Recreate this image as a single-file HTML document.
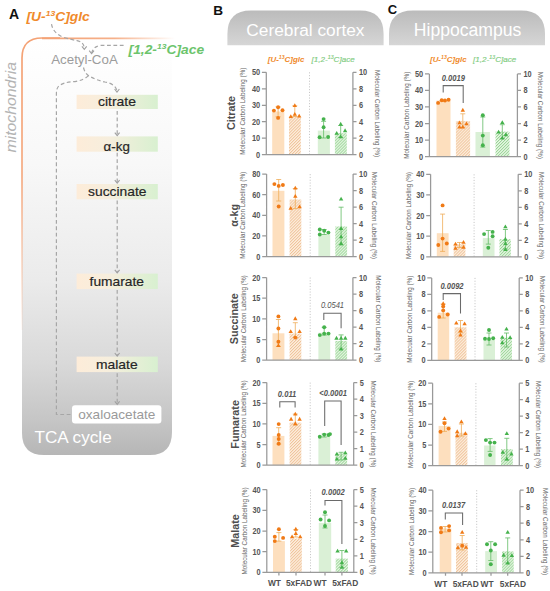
<!DOCTYPE html>
<html><head><meta charset="utf-8"><style>
html,body{margin:0;padding:0;background:#fff;}
body{width:550px;height:591px;overflow:hidden;}
svg{display:block;font-family:"Liberation Sans", sans-serif;}
</style></head><body>
<svg width="550" height="591" viewBox="0 0 550 591">
<defs>
<pattern id="hatchO" patternUnits="userSpaceOnUse" width="2.1" height="2.1" patternTransform="rotate(45)"><rect width="2.1" height="2.1" fill="#fdeedd"/><rect width="0.9" height="2.1" fill="#efc39a"/></pattern>
<pattern id="hatchG" patternUnits="userSpaceOnUse" width="2.1" height="2.1" patternTransform="rotate(45)"><rect width="2.1" height="2.1" fill="#eaf7e8"/><rect width="0.9" height="2.1" fill="#96d492"/></pattern>
<linearGradient id="tab" x1="0" y1="0" x2="0" y2="1"><stop offset="0" stop-color="#bbbbbb"/><stop offset="1" stop-color="#d6d6d6"/></linearGradient>
<linearGradient id="box" x1="0" y1="0" x2="0" y2="1"><stop offset="0" stop-color="#ffffff"/><stop offset="0.3" stop-color="#f8f8f8"/><stop offset="0.58" stop-color="#ebebeb"/><stop offset="0.78" stop-color="#d9d9d9"/><stop offset="0.92" stop-color="#c5c5c5"/><stop offset="1" stop-color="#b6b6b6"/></linearGradient>
<linearGradient id="met" x1="0" y1="0" x2="1" y2="0"><stop offset="0" stop-color="#fdecd9"/><stop offset="0.4" stop-color="#f6eedd"/><stop offset="1" stop-color="#d8f0d0"/></linearGradient>
<linearGradient id="memV" gradientUnits="userSpaceOnUse" x1="0" y1="40" x2="0" y2="340"><stop offset="0" stop-color="#f4a275"/><stop offset="0.45" stop-color="#f4a275" stop-opacity="0.9"/><stop offset="1" stop-color="#f4a275" stop-opacity="0"/></linearGradient>
<linearGradient id="memH" gradientUnits="userSpaceOnUse" x1="40" y1="0" x2="175" y2="0"><stop offset="0" stop-color="#f4a275"/><stop offset="0.55" stop-color="#f4a275" stop-opacity="0.85"/><stop offset="1" stop-color="#f4a275" stop-opacity="0"/></linearGradient>
<marker id="arr" viewBox="0 0 10 10" refX="5" refY="8" markerWidth="5" markerHeight="5" orient="auto-start-reverse" markerUnits="userSpaceOnUse"><path d="M1 3L5 8L9 3" stroke="#9a9a9a" stroke-width="1.6" fill="none"/></marker>
</defs>
<path d="M22 58Q22 38 42 38H172V432Q172 455 150 455H44Q22 455 22 433Z" fill="url(#box)"/>
<path d="M22 330V58Q22 38 42 38H60" stroke="url(#memV)" stroke-width="1.7" fill="none"/>
<path d="M42 38.3H175" stroke="url(#memH)" stroke-width="1.7" fill="none"/>
<text x="16.00" y="107.30" font-size="14.2" fill="#b4b4b4" font-weight="normal" font-style="italic" text-anchor="middle" transform="rotate(-90 16.00 107.30)" textLength="90.5" lengthAdjust="spacingAndGlyphs">mitochondria</text>
<text x="9.10" y="18.60" font-size="14" fill="#111" font-weight="bold" font-style="normal" text-anchor="start" >A</text>
<text x="26.5" y="20.7" font-size="12.6" fill="#f08a2c" font-weight="bold" font-style="italic" textLength="63.3" lengthAdjust="spacingAndGlyphs">[U-<tspan font-size="7.8" dy="-5">13</tspan><tspan dy="5">C]glc</tspan></text>
<text x="128.6" y="53.5" font-size="12.6" fill="#6cc46c" font-weight="bold" font-style="italic" textLength="75.5" lengthAdjust="spacingAndGlyphs">[1,2-<tspan font-size="7.8" dy="-5">13</tspan><tspan dy="5">C]ace</tspan></text>
<text x="51.20" y="63.90" font-size="12.2" fill="#9c9c9c" font-weight="normal" font-style="normal" text-anchor="start" textLength="66.6" lengthAdjust="spacingAndGlyphs">Acetyl-CoA</text>
<rect x="76.6" y="94.80" width="81.2" height="14.2" fill="url(#met)"/>
<text x="98.00" y="106.40" font-size="12.8" fill="#262626" font-weight="normal" font-style="normal" text-anchor="start" textLength="38.0" lengthAdjust="spacingAndGlyphs" stroke="#262626" stroke-width="0.18">citrate</text>
<rect x="76.6" y="136.40" width="81.2" height="15.3" fill="url(#met)"/>
<text x="103.60" y="150.90" font-size="12.8" fill="#262626" font-weight="normal" font-style="normal" text-anchor="start" textLength="26.3" lengthAdjust="spacingAndGlyphs" stroke="#262626" stroke-width="0.18">&#945;-kg</text>
<rect x="76.6" y="184.00" width="81.2" height="15.3" fill="url(#met)"/>
<text x="88.10" y="196.20" font-size="12.8" fill="#262626" font-weight="normal" font-style="normal" text-anchor="start" textLength="58.3" lengthAdjust="spacingAndGlyphs" stroke="#262626" stroke-width="0.18">succinate</text>
<rect x="76.6" y="273.60" width="81.2" height="15.5" fill="url(#met)"/>
<text x="89.60" y="286.00" font-size="12.8" fill="#262626" font-weight="normal" font-style="normal" text-anchor="start" textLength="54.4" lengthAdjust="spacingAndGlyphs" stroke="#262626" stroke-width="0.18">fumarate</text>
<rect x="76.6" y="356.60" width="81.2" height="15.5" fill="url(#met)"/>
<text x="96.00" y="369.10" font-size="12.8" fill="#262626" font-weight="normal" font-style="normal" text-anchor="start" textLength="41.6" lengthAdjust="spacingAndGlyphs" stroke="#262626" stroke-width="0.18">malate</text>
<rect x="72" y="405.2" width="89.4" height="18.4" rx="3" fill="#ffffff"/>
<text x="78.20" y="419.00" font-size="13.2" fill="#9a9a9a" font-weight="normal" font-style="normal" text-anchor="start" textLength="77.2" lengthAdjust="spacingAndGlyphs">oxaloacetate</text>
<text x="34.50" y="442.70" font-size="16.8" fill="#ffffff" font-weight="normal" font-style="normal" text-anchor="start" textLength="77.2" lengthAdjust="spacingAndGlyphs">TCA cycle</text>
<path d="M51.5 24.1Q53 33 63 37.2Q73 40 77 40.6Q84 42 84.3 48.6" stroke="#a6a6a6" stroke-width="1.2" fill="none" stroke-dasharray="3.8 2.6"/>
<path d="M81.90 46.30L84.30 49.30L86.70 46.30" stroke="#a0a0a0" stroke-width="1.1" fill="none"/>
<path d="M123.6 45.4H100.6Q93 46.5 91.8 53" stroke="#a6a6a6" stroke-width="1.2" fill="none" stroke-dasharray="3.8 2.6"/>
<path d="M89.20 50.60L91.60 53.60L94.00 50.60" stroke="#a0a0a0" stroke-width="1.1" fill="none"/>
<path d="M83.5 67.5Q85 74 90 76.5Q96 80 105 82Q116 84 117 91.3" stroke="#a6a6a6" stroke-width="1.2" fill="none" stroke-dasharray="3.8 2.6"/>
<path d="M114.60 89.00L117.00 92.00L119.40 89.00" stroke="#a0a0a0" stroke-width="1.1" fill="none"/>
<path d="M88.4 75.6Q84 80 75 81.6Q62 82 58 87Q56.4 89 56.4 94V414.5H71" stroke="#a6a6a6" stroke-width="1.2" fill="none" stroke-dasharray="3.8 2.6"/>
<path d="M117.2 111.00V135.40" stroke="#a6a6a6" stroke-width="1.2" fill="none" stroke-dasharray="3.8 2.6"/>
<path d="M114.80 132.60L117.20 135.60L119.60 132.60" stroke="#a0a0a0" stroke-width="1.1" fill="none"/>
<path d="M117.2 152.80V183.00" stroke="#a6a6a6" stroke-width="1.2" fill="none" stroke-dasharray="3.8 2.6"/>
<path d="M114.80 180.20L117.20 183.20L119.60 180.20" stroke="#a0a0a0" stroke-width="1.1" fill="none"/>
<path d="M117.2 200.40V272.60" stroke="#a6a6a6" stroke-width="1.2" fill="none" stroke-dasharray="3.8 2.6"/>
<path d="M114.80 269.80L117.20 272.80L119.60 269.80" stroke="#a0a0a0" stroke-width="1.1" fill="none"/>
<path d="M117.2 290.00V355.80" stroke="#a6a6a6" stroke-width="1.2" fill="none" stroke-dasharray="3.8 2.6"/>
<path d="M114.80 353.00L117.20 356.00L119.60 353.00" stroke="#a0a0a0" stroke-width="1.1" fill="none"/>
<path d="M117.2 373.20V404.20" stroke="#a6a6a6" stroke-width="1.2" fill="none" stroke-dasharray="3.8 2.6"/>
<path d="M114.80 401.40L117.20 404.40L119.60 401.40" stroke="#a0a0a0" stroke-width="1.1" fill="none"/>
<path d="M227.4 45.3V34Q227.4 10.5 251 10.5H360Q383.6 10.5 383.6 34V45.3Z" fill="url(#tab)"/>
<path d="M389 45.3V34Q389 10.4 413 10.4H521Q545 10.4 545 34V45.3Z" fill="url(#tab)"/>
<text x="305.40" y="36.30" font-size="17.3" fill="#ffffff" font-weight="normal" font-style="normal" text-anchor="middle" >Cerebral cortex</text>
<text x="467.60" y="36.20" font-size="17.6" fill="#ffffff" font-weight="normal" font-style="normal" text-anchor="middle" >Hippocampus</text>
<text x="213.30" y="15.20" font-size="13.6" fill="#111" font-weight="bold" font-style="normal" text-anchor="start" >B</text>
<text x="387.80" y="13.90" font-size="13.0" fill="#111" font-weight="bold" font-style="normal" text-anchor="start" >C</text>
<text x="267.8" y="62.3" font-size="7.6" fill="#f08a2c" font-weight="bold" font-style="italic" textLength="36.6" lengthAdjust="spacingAndGlyphs">[U-<tspan font-size="5.0" dy="-3.4">13</tspan><tspan dy="3.4">C]glc</tspan></text>
<text x="311.5" y="62.3" font-size="7.6" fill="#80cc80" font-style="italic" stroke="#80cc80" stroke-width="0.15" textLength="43.2" lengthAdjust="spacingAndGlyphs">[1,2-<tspan font-size="5.0" dy="-3.4">13</tspan><tspan dy="3.4">C]ace</tspan></text>
<text x="430.0" y="62.3" font-size="7.6" fill="#f08a2c" font-weight="bold" font-style="italic" textLength="36.6" lengthAdjust="spacingAndGlyphs">[U-<tspan font-size="5.0" dy="-3.4">13</tspan><tspan dy="3.4">C]glc</tspan></text>
<text x="473.1" y="62.3" font-size="7.6" fill="#80cc80" font-style="italic" stroke="#80cc80" stroke-width="0.15" textLength="43.2" lengthAdjust="spacingAndGlyphs">[1,2-<tspan font-size="5.0" dy="-3.4">13</tspan><tspan dy="3.4">C]ace</tspan></text>
<rect x="272.20" y="111.50" width="12.10" height="43.20" fill="#fddfbe"/>
<rect x="289.00" y="116.50" width="11.80" height="38.20" fill="url(#hatchO)"/>
<rect x="317.80" y="130.60" width="12.10" height="24.10" fill="#daf0d6"/>
<rect x="334.90" y="133.20" width="11.90" height="21.50" fill="url(#hatchG)"/>
<line x1="309.50" y1="72.30" x2="309.50" y2="154.70" stroke="#b4b4b4" stroke-width="0.75" stroke-dasharray="1.1 1.7"/>
<path d="M278.10 106.80V116.80M275.60 106.80H280.60M275.60 116.80H280.60" stroke="#efac58" stroke-width="0.8" fill="none"/>
<path d="M294.80 105.80V116.50M292.30 105.80H297.30M292.30 116.50H297.30" stroke="#efac58" stroke-width="0.8" fill="none"/>
<path d="M323.60 121.30V138.00M321.10 121.30H326.10M321.10 138.00H326.10" stroke="#62bb64" stroke-width="0.8" fill="none"/>
<path d="M340.70 125.50V137.50M338.20 125.50H343.20M338.20 137.50H343.20" stroke="#62bb64" stroke-width="0.8" fill="none"/>
<circle cx="273.90" cy="110.60" r="1.95" fill="#f07a16"/>
<circle cx="278.10" cy="107.20" r="1.95" fill="#f07a16"/>
<circle cx="282.50" cy="110.30" r="1.95" fill="#f07a16"/>
<circle cx="278.10" cy="117.90" r="1.95" fill="#f07a16"/>
<path d="M290.80 114.13L293.00 117.95L288.60 117.95Z" fill="#f07a16"/>
<path d="M294.80 111.93L297.00 115.75L292.60 115.75Z" fill="#f07a16"/>
<path d="M299.20 113.73L301.40 117.55L297.00 117.55Z" fill="#f07a16"/>
<path d="M294.80 103.13L297.00 106.95L292.60 106.95Z" fill="#f07a16"/>
<circle cx="323.60" cy="119.10" r="1.95" fill="#45b24c"/>
<circle cx="323.60" cy="127.30" r="1.95" fill="#45b24c"/>
<circle cx="319.60" cy="137.30" r="1.95" fill="#45b24c"/>
<circle cx="328.10" cy="137.00" r="1.95" fill="#45b24c"/>
<path d="M340.70 121.83L342.90 125.65L338.50 125.65Z" fill="#45b24c"/>
<path d="M336.70 130.93L338.90 134.75L334.50 134.75Z" fill="#45b24c"/>
<path d="M345.10 128.33L347.30 132.15L342.90 132.15Z" fill="#45b24c"/>
<path d="M340.70 134.53L342.90 138.35L338.50 138.35Z" fill="#45b24c"/>
<text x="260.10" y="157.70" font-size="8.5" fill="#555555" font-weight="bold" font-style="normal" text-anchor="end" textLength="4.1" lengthAdjust="spacingAndGlyphs">0</text>
<text x="260.10" y="141.22" font-size="8.5" fill="#555555" font-weight="bold" font-style="normal" text-anchor="end" textLength="8.2" lengthAdjust="spacingAndGlyphs">10</text>
<text x="260.10" y="124.74" font-size="8.5" fill="#555555" font-weight="bold" font-style="normal" text-anchor="end" textLength="8.2" lengthAdjust="spacingAndGlyphs">20</text>
<text x="260.10" y="108.26" font-size="8.5" fill="#555555" font-weight="bold" font-style="normal" text-anchor="end" textLength="8.2" lengthAdjust="spacingAndGlyphs">30</text>
<text x="260.10" y="91.78" font-size="8.5" fill="#555555" font-weight="bold" font-style="normal" text-anchor="end" textLength="8.2" lengthAdjust="spacingAndGlyphs">40</text>
<text x="260.10" y="75.30" font-size="8.5" fill="#555555" font-weight="bold" font-style="normal" text-anchor="end" textLength="8.2" lengthAdjust="spacingAndGlyphs">50</text>
<text x="358.90" y="157.70" font-size="8.5" fill="#555555" font-weight="bold" font-style="normal" text-anchor="start" textLength="4.1" lengthAdjust="spacingAndGlyphs">0</text>
<text x="358.90" y="141.22" font-size="8.5" fill="#555555" font-weight="bold" font-style="normal" text-anchor="start" textLength="4.1" lengthAdjust="spacingAndGlyphs">2</text>
<text x="358.90" y="124.74" font-size="8.5" fill="#555555" font-weight="bold" font-style="normal" text-anchor="start" textLength="4.1" lengthAdjust="spacingAndGlyphs">4</text>
<text x="358.90" y="108.26" font-size="8.5" fill="#555555" font-weight="bold" font-style="normal" text-anchor="start" textLength="4.1" lengthAdjust="spacingAndGlyphs">6</text>
<text x="358.90" y="91.78" font-size="8.5" fill="#555555" font-weight="bold" font-style="normal" text-anchor="start" textLength="4.1" lengthAdjust="spacingAndGlyphs">8</text>
<text x="358.90" y="75.30" font-size="8.5" fill="#555555" font-weight="bold" font-style="normal" text-anchor="start" textLength="8.2" lengthAdjust="spacingAndGlyphs">10</text>
<path d="M266.30 72.30V154.70H352.90V72.30M261.90 154.70H266.30M261.90 138.22H266.30M261.90 121.74H266.30M261.90 105.26H266.30M261.90 88.78H266.30M261.90 72.30H266.30M352.90 154.70H356.50M352.90 138.22H356.50M352.90 121.74H356.50M352.90 105.26H356.50M352.90 88.78H356.50M352.90 72.30H356.50" stroke="#999999" stroke-width="1.25" fill="none"/>
<text x="245.30" y="111.20" font-size="6.4" fill="#626262" font-weight="normal" font-style="normal" text-anchor="middle" transform="rotate(-90 245.30 111.20)" textLength="87" lengthAdjust="spacingAndGlyphs">Molecular Carbon Labeling (%)</text>
<text x="374.80" y="113.50" font-size="6.4" fill="#626262" font-weight="normal" font-style="normal" text-anchor="middle" transform="rotate(90 374.80 113.50)" textLength="87" lengthAdjust="spacingAndGlyphs">Molecular Carbon Labeling (%)</text>
<text x="235.00" y="113.00" font-size="10.8" fill="#4e4e4e" font-weight="bold" font-style="normal" text-anchor="middle" transform="rotate(-90 235.00 113.00)" >Citrate</text>
<rect x="272.50" y="190.80" width="11.90" height="65.70" fill="#fddfbe"/>
<rect x="289.60" y="199.50" width="11.70" height="57.00" fill="url(#hatchO)"/>
<rect x="318.40" y="234.50" width="11.80" height="22.00" fill="#daf0d6"/>
<rect x="335.30" y="226.50" width="11.80" height="30.00" fill="url(#hatchG)"/>
<line x1="310.20" y1="174.10" x2="310.20" y2="256.50" stroke="#b4b4b4" stroke-width="0.75" stroke-dasharray="1.1 1.7"/>
<path d="M278.70 179.50V201.00M276.20 179.50H281.20M276.20 201.00H281.20" stroke="#efac58" stroke-width="0.8" fill="none"/>
<path d="M295.30 188.50V208.60M292.80 188.50H297.80M292.80 208.60H297.80" stroke="#efac58" stroke-width="0.8" fill="none"/>
<path d="M324.20 229.50V234.50M321.70 229.50H326.70M321.70 234.50H326.70" stroke="#62bb64" stroke-width="0.8" fill="none"/>
<path d="M341.10 207.20V245.00M338.60 207.20H343.60M338.60 245.00H343.60" stroke="#62bb64" stroke-width="0.8" fill="none"/>
<circle cx="274.40" cy="184.10" r="1.95" fill="#f07a16"/>
<circle cx="278.70" cy="185.90" r="1.95" fill="#f07a16"/>
<circle cx="282.90" cy="185.00" r="1.95" fill="#f07a16"/>
<circle cx="278.70" cy="206.50" r="1.95" fill="#f07a16"/>
<path d="M295.30 185.73L297.50 189.55L293.10 189.55Z" fill="#f07a16"/>
<path d="M295.30 193.93L297.50 197.75L293.10 197.75Z" fill="#f07a16"/>
<path d="M290.70 205.93L292.90 209.75L288.50 209.75Z" fill="#f07a16"/>
<path d="M299.60 204.43L301.80 208.25L297.40 208.25Z" fill="#f07a16"/>
<circle cx="319.80" cy="229.50" r="1.95" fill="#45b24c"/>
<circle cx="324.20" cy="230.80" r="1.95" fill="#45b24c"/>
<circle cx="328.40" cy="232.60" r="1.95" fill="#45b24c"/>
<circle cx="319.80" cy="234.50" r="1.95" fill="#45b24c"/>
<path d="M341.10 196.63L343.30 200.45L338.90 200.45Z" fill="#45b24c"/>
<path d="M341.10 226.23L343.30 230.05L338.90 230.05Z" fill="#45b24c"/>
<path d="M341.10 234.43L343.30 238.25L338.90 238.25Z" fill="#45b24c"/>
<path d="M341.10 241.13L343.30 244.95L338.90 244.95Z" fill="#45b24c"/>
<text x="260.40" y="259.50" font-size="8.5" fill="#555555" font-weight="bold" font-style="normal" text-anchor="end" textLength="4.1" lengthAdjust="spacingAndGlyphs">0</text>
<text x="260.40" y="238.90" font-size="8.5" fill="#555555" font-weight="bold" font-style="normal" text-anchor="end" textLength="8.2" lengthAdjust="spacingAndGlyphs">20</text>
<text x="260.40" y="218.30" font-size="8.5" fill="#555555" font-weight="bold" font-style="normal" text-anchor="end" textLength="8.2" lengthAdjust="spacingAndGlyphs">40</text>
<text x="260.40" y="197.70" font-size="8.5" fill="#555555" font-weight="bold" font-style="normal" text-anchor="end" textLength="8.2" lengthAdjust="spacingAndGlyphs">60</text>
<text x="260.40" y="177.10" font-size="8.5" fill="#555555" font-weight="bold" font-style="normal" text-anchor="end" textLength="8.2" lengthAdjust="spacingAndGlyphs">80</text>
<text x="359.10" y="259.50" font-size="8.5" fill="#555555" font-weight="bold" font-style="normal" text-anchor="start" textLength="4.1" lengthAdjust="spacingAndGlyphs">0</text>
<text x="359.10" y="243.02" font-size="8.5" fill="#555555" font-weight="bold" font-style="normal" text-anchor="start" textLength="4.1" lengthAdjust="spacingAndGlyphs">2</text>
<text x="359.10" y="226.54" font-size="8.5" fill="#555555" font-weight="bold" font-style="normal" text-anchor="start" textLength="4.1" lengthAdjust="spacingAndGlyphs">4</text>
<text x="359.10" y="210.06" font-size="8.5" fill="#555555" font-weight="bold" font-style="normal" text-anchor="start" textLength="4.1" lengthAdjust="spacingAndGlyphs">6</text>
<text x="359.10" y="193.58" font-size="8.5" fill="#555555" font-weight="bold" font-style="normal" text-anchor="start" textLength="4.1" lengthAdjust="spacingAndGlyphs">8</text>
<text x="359.10" y="177.10" font-size="8.5" fill="#555555" font-weight="bold" font-style="normal" text-anchor="start" textLength="8.2" lengthAdjust="spacingAndGlyphs">10</text>
<path d="M266.60 174.10V256.50H353.10V174.10M262.20 256.50H266.60M262.20 235.90H266.60M262.20 215.30H266.60M262.20 194.70H266.60M262.20 174.10H266.60M353.10 256.50H356.70M353.10 240.02H356.70M353.10 223.54H356.70M353.10 207.06H356.70M353.10 190.58H356.70M353.10 174.10H356.70" stroke="#999999" stroke-width="1.25" fill="none"/>
<text x="245.20" y="215.30" font-size="6.4" fill="#626262" font-weight="normal" font-style="normal" text-anchor="middle" transform="rotate(-90 245.20 215.30)" textLength="87" lengthAdjust="spacingAndGlyphs">Molecular Carbon Labeling (%)</text>
<text x="372.00" y="215.30" font-size="6.4" fill="#626262" font-weight="normal" font-style="normal" text-anchor="middle" transform="rotate(90 372.00 215.30)" textLength="87" lengthAdjust="spacingAndGlyphs">Molecular Carbon Labeling (%)</text>
<text x="237.80" y="215.40" font-size="10.8" fill="#4e4e4e" font-weight="bold" font-style="normal" text-anchor="middle" transform="rotate(-90 237.80 215.40)" >&#945;-kg</text>
<rect x="272.50" y="333.30" width="11.90" height="26.90" fill="#fddfbe"/>
<rect x="289.60" y="333.60" width="11.70" height="26.60" fill="url(#hatchO)"/>
<rect x="318.40" y="332.70" width="11.80" height="27.50" fill="#daf0d6"/>
<rect x="335.30" y="340.90" width="11.80" height="19.30" fill="url(#hatchG)"/>
<line x1="310.20" y1="277.50" x2="310.20" y2="360.20" stroke="#b4b4b4" stroke-width="0.75" stroke-dasharray="1.1 1.7"/>
<path d="M278.40 319.50V346.40M275.90 319.50H280.90M275.90 346.40H280.90" stroke="#efac58" stroke-width="0.8" fill="none"/>
<path d="M295.30 322.70V337.60M292.80 322.70H297.80M292.80 337.60H297.80" stroke="#efac58" stroke-width="0.8" fill="none"/>
<path d="M324.20 327.30V335.10M321.70 327.30H326.70M321.70 335.10H326.70" stroke="#62bb64" stroke-width="0.8" fill="none"/>
<path d="M341.10 334.90V349.00M338.60 334.90H343.60M338.60 349.00H343.60" stroke="#62bb64" stroke-width="0.8" fill="none"/>
<circle cx="278.40" cy="316.40" r="1.95" fill="#f07a16"/>
<circle cx="278.40" cy="328.50" r="1.95" fill="#f07a16"/>
<circle cx="278.40" cy="341.80" r="1.95" fill="#f07a16"/>
<path d="M278.40 343.13L280.60 346.95L276.20 346.95Z" fill="#f07a16"/>
<path d="M295.30 316.33L297.50 320.15L293.10 320.15Z" fill="#f07a16"/>
<path d="M290.70 329.13L292.90 332.95L288.50 332.95Z" fill="#f07a16"/>
<path d="M299.60 329.13L301.80 332.95L297.40 332.95Z" fill="#f07a16"/>
<circle cx="295.30" cy="337.60" r="1.95" fill="#f07a16"/>
<circle cx="324.20" cy="327.30" r="1.95" fill="#45b24c"/>
<circle cx="319.80" cy="335.10" r="1.95" fill="#45b24c"/>
<circle cx="324.20" cy="333.60" r="1.95" fill="#45b24c"/>
<circle cx="328.50" cy="333.60" r="1.95" fill="#45b24c"/>
<path d="M336.50 335.83L338.70 339.65L334.30 339.65Z" fill="#45b24c"/>
<path d="M341.10 335.83L343.30 339.65L338.90 339.65Z" fill="#45b24c"/>
<path d="M345.30 335.83L347.50 339.65L343.10 339.65Z" fill="#45b24c"/>
<path d="M341.10 346.73L343.30 350.55L338.90 350.55Z" fill="#45b24c"/>
<text x="260.40" y="363.20" font-size="8.5" fill="#555555" font-weight="bold" font-style="normal" text-anchor="end" textLength="4.1" lengthAdjust="spacingAndGlyphs">0</text>
<text x="260.40" y="342.52" font-size="8.5" fill="#555555" font-weight="bold" font-style="normal" text-anchor="end" textLength="4.1" lengthAdjust="spacingAndGlyphs">5</text>
<text x="260.40" y="321.85" font-size="8.5" fill="#555555" font-weight="bold" font-style="normal" text-anchor="end" textLength="8.2" lengthAdjust="spacingAndGlyphs">10</text>
<text x="260.40" y="301.18" font-size="8.5" fill="#555555" font-weight="bold" font-style="normal" text-anchor="end" textLength="8.2" lengthAdjust="spacingAndGlyphs">15</text>
<text x="260.40" y="280.50" font-size="8.5" fill="#555555" font-weight="bold" font-style="normal" text-anchor="end" textLength="8.2" lengthAdjust="spacingAndGlyphs">20</text>
<text x="358.90" y="363.20" font-size="8.5" fill="#555555" font-weight="bold" font-style="normal" text-anchor="start" textLength="4.1" lengthAdjust="spacingAndGlyphs">0</text>
<text x="358.90" y="346.66" font-size="8.5" fill="#555555" font-weight="bold" font-style="normal" text-anchor="start" textLength="4.1" lengthAdjust="spacingAndGlyphs">2</text>
<text x="358.90" y="330.12" font-size="8.5" fill="#555555" font-weight="bold" font-style="normal" text-anchor="start" textLength="4.1" lengthAdjust="spacingAndGlyphs">4</text>
<text x="358.90" y="313.58" font-size="8.5" fill="#555555" font-weight="bold" font-style="normal" text-anchor="start" textLength="4.1" lengthAdjust="spacingAndGlyphs">6</text>
<text x="358.90" y="297.04" font-size="8.5" fill="#555555" font-weight="bold" font-style="normal" text-anchor="start" textLength="4.1" lengthAdjust="spacingAndGlyphs">8</text>
<text x="358.90" y="280.50" font-size="8.5" fill="#555555" font-weight="bold" font-style="normal" text-anchor="start" textLength="8.2" lengthAdjust="spacingAndGlyphs">10</text>
<path d="M266.60 277.50V360.20H352.90V277.50M262.20 360.20H266.60M262.20 339.52H266.60M262.20 318.85H266.60M262.20 298.18H266.60M262.20 277.50H266.60M352.90 360.20H356.50M352.90 343.66H356.50M352.90 327.12H356.50M352.90 310.58H356.50M352.90 294.04H356.50M352.90 277.50H356.50" stroke="#999999" stroke-width="1.25" fill="none"/>
<text x="245.90" y="318.85" font-size="6.4" fill="#626262" font-weight="normal" font-style="normal" text-anchor="middle" transform="rotate(-90 245.90 318.85)" textLength="87" lengthAdjust="spacingAndGlyphs">Molecular Carbon Labeling (%)</text>
<text x="375.50" y="318.85" font-size="6.4" fill="#626262" font-weight="normal" font-style="normal" text-anchor="middle" transform="rotate(90 375.50 318.85)" textLength="87" lengthAdjust="spacingAndGlyphs">Molecular Carbon Labeling (%)</text>
<text x="238.30" y="318.80" font-size="10.8" fill="#4e4e4e" font-weight="bold" font-style="normal" text-anchor="middle" transform="rotate(-90 238.30 318.80)" >Succinate</text>
<path d="M323.80 320.00V313.30H341.10V328.20" stroke="#6a6a6a" stroke-width="1.05" fill="none"/>
<text x="332.50" y="308.10" font-size="8.3" fill="#555" font-weight="normal" font-style="italic" text-anchor="middle" textLength="23.2" lengthAdjust="spacingAndGlyphs">0.0541</text>
<rect x="272.50" y="435.90" width="11.90" height="29.30" fill="#fddfbe"/>
<rect x="289.60" y="422.60" width="11.70" height="42.60" fill="url(#hatchO)"/>
<rect x="318.40" y="435.90" width="11.80" height="29.30" fill="#daf0d6"/>
<rect x="335.30" y="453.50" width="11.80" height="11.70" fill="url(#hatchG)"/>
<line x1="310.20" y1="382.60" x2="310.20" y2="465.20" stroke="#b4b4b4" stroke-width="0.75" stroke-dasharray="1.1 1.7"/>
<path d="M278.70 427.70V444.10M276.20 427.70H281.20M276.20 444.10H281.20" stroke="#efac58" stroke-width="0.8" fill="none"/>
<path d="M295.30 414.10V425.00M292.80 414.10H297.80M292.80 425.00H297.80" stroke="#efac58" stroke-width="0.8" fill="none"/>
<path d="M324.20 434.00V437.00M321.70 434.00H326.70M321.70 437.00H326.70" stroke="#62bb64" stroke-width="0.8" fill="none"/>
<path d="M341.10 452.30V460.00M338.60 452.30H343.60M338.60 460.00H343.60" stroke="#62bb64" stroke-width="0.8" fill="none"/>
<circle cx="278.70" cy="424.10" r="1.95" fill="#f07a16"/>
<circle cx="278.70" cy="435.00" r="1.95" fill="#f07a16"/>
<circle cx="278.70" cy="439.00" r="1.95" fill="#f07a16"/>
<circle cx="278.70" cy="443.70" r="1.95" fill="#f07a16"/>
<path d="M295.30 411.73L297.50 415.55L293.10 415.55Z" fill="#f07a16"/>
<path d="M291.10 416.83L293.30 420.65L288.90 420.65Z" fill="#f07a16"/>
<path d="M299.60 416.83L301.80 420.65L297.40 420.65Z" fill="#f07a16"/>
<path d="M295.30 421.33L297.50 425.15L293.10 425.15Z" fill="#f07a16"/>
<circle cx="319.80" cy="436.80" r="1.95" fill="#45b24c"/>
<circle cx="324.20" cy="434.60" r="1.95" fill="#45b24c"/>
<circle cx="328.50" cy="435.00" r="1.95" fill="#45b24c"/>
<circle cx="330.00" cy="434.10" r="1.95" fill="#45b24c"/>
<path d="M336.90 451.73L339.10 455.55L334.70 455.55Z" fill="#45b24c"/>
<path d="M345.30 450.43L347.50 454.25L343.10 454.25Z" fill="#45b24c"/>
<path d="M336.90 456.63L339.10 460.45L334.70 460.45Z" fill="#45b24c"/>
<path d="M345.30 455.93L347.50 459.75L343.10 459.75Z" fill="#45b24c"/>
<text x="260.60" y="468.20" font-size="8.5" fill="#555555" font-weight="bold" font-style="normal" text-anchor="end" textLength="4.1" lengthAdjust="spacingAndGlyphs">0</text>
<text x="260.60" y="447.55" font-size="8.5" fill="#555555" font-weight="bold" font-style="normal" text-anchor="end" textLength="4.1" lengthAdjust="spacingAndGlyphs">5</text>
<text x="260.60" y="426.90" font-size="8.5" fill="#555555" font-weight="bold" font-style="normal" text-anchor="end" textLength="8.2" lengthAdjust="spacingAndGlyphs">10</text>
<text x="260.60" y="406.25" font-size="8.5" fill="#555555" font-weight="bold" font-style="normal" text-anchor="end" textLength="8.2" lengthAdjust="spacingAndGlyphs">15</text>
<text x="260.60" y="385.60" font-size="8.5" fill="#555555" font-weight="bold" font-style="normal" text-anchor="end" textLength="8.2" lengthAdjust="spacingAndGlyphs">20</text>
<text x="359.70" y="468.20" font-size="8.5" fill="#555555" font-weight="bold" font-style="normal" text-anchor="start" textLength="4.1" lengthAdjust="spacingAndGlyphs">0</text>
<text x="359.70" y="451.68" font-size="8.5" fill="#555555" font-weight="bold" font-style="normal" text-anchor="start" textLength="4.1" lengthAdjust="spacingAndGlyphs">1</text>
<text x="359.70" y="435.16" font-size="8.5" fill="#555555" font-weight="bold" font-style="normal" text-anchor="start" textLength="4.1" lengthAdjust="spacingAndGlyphs">2</text>
<text x="359.70" y="418.64" font-size="8.5" fill="#555555" font-weight="bold" font-style="normal" text-anchor="start" textLength="4.1" lengthAdjust="spacingAndGlyphs">3</text>
<text x="359.70" y="402.12" font-size="8.5" fill="#555555" font-weight="bold" font-style="normal" text-anchor="start" textLength="4.1" lengthAdjust="spacingAndGlyphs">4</text>
<text x="359.70" y="385.60" font-size="8.5" fill="#555555" font-weight="bold" font-style="normal" text-anchor="start" textLength="4.1" lengthAdjust="spacingAndGlyphs">5</text>
<path d="M266.80 382.60V465.20H353.70V382.60M262.40 465.20H266.80M262.40 444.55H266.80M262.40 423.90H266.80M262.40 403.25H266.80M262.40 382.60H266.80M353.70 465.20H357.30M353.70 448.68H357.30M353.70 432.16H357.30M353.70 415.64H357.30M353.70 399.12H357.30M353.70 382.60H357.30" stroke="#999999" stroke-width="1.25" fill="none"/>
<text x="246.20" y="423.90" font-size="6.4" fill="#626262" font-weight="normal" font-style="normal" text-anchor="middle" transform="rotate(-90 246.20 423.90)" textLength="87" lengthAdjust="spacingAndGlyphs">Molecular Carbon Labeling (%)</text>
<text x="370.80" y="423.90" font-size="6.4" fill="#626262" font-weight="normal" font-style="normal" text-anchor="middle" transform="rotate(90 370.80 423.90)" textLength="87" lengthAdjust="spacingAndGlyphs">Molecular Carbon Labeling (%)</text>
<text x="238.70" y="424.40" font-size="10.8" fill="#4e4e4e" font-weight="bold" font-style="normal" text-anchor="middle" transform="rotate(-90 238.70 424.40)" >Fumarate</text>
<path d="M279.80 407.40V401.70H295.10V407.40" stroke="#6a6a6a" stroke-width="1.05" fill="none"/>
<text x="287.10" y="396.80" font-size="8.3" fill="#555" font-weight="bold" font-style="italic" text-anchor="middle" textLength="18.5" lengthAdjust="spacingAndGlyphs">0.011</text>
<path d="M324.70 425.90V401.00H341.10V445.00" stroke="#6a6a6a" stroke-width="1.05" fill="none"/>
<text x="333.10" y="395.50" font-size="8.3" fill="#555" font-weight="bold" font-style="italic" text-anchor="middle" textLength="27.7" lengthAdjust="spacingAndGlyphs">&lt;0.0001</text>
<rect x="273.00" y="541.10" width="11.90" height="31.30" fill="#fddfbe"/>
<rect x="290.20" y="538.60" width="11.60" height="33.80" fill="url(#hatchO)"/>
<rect x="318.80" y="522.90" width="12.40" height="49.50" fill="#daf0d6"/>
<rect x="335.70" y="558.60" width="12.20" height="13.80" fill="url(#hatchG)"/>
<line x1="310.50" y1="489.60" x2="310.50" y2="572.40" stroke="#b4b4b4" stroke-width="0.75" stroke-dasharray="1.1 1.7"/>
<path d="M278.90 532.60V541.10M276.40 532.60H281.40M276.40 541.10H281.40" stroke="#efac58" stroke-width="0.8" fill="none"/>
<path d="M295.80 529.50V537.00M293.30 529.50H298.30M293.30 537.00H298.30" stroke="#efac58" stroke-width="0.8" fill="none"/>
<path d="M325.00 515.00V528.00M322.50 515.00H327.50M322.50 528.00H327.50" stroke="#62bb64" stroke-width="0.8" fill="none"/>
<path d="M341.90 550.50V567.40M339.40 550.50H344.40M339.40 567.40H344.40" stroke="#62bb64" stroke-width="0.8" fill="none"/>
<circle cx="278.90" cy="529.20" r="1.95" fill="#f07a16"/>
<circle cx="274.80" cy="536.80" r="1.95" fill="#f07a16"/>
<circle cx="283.10" cy="537.90" r="1.95" fill="#f07a16"/>
<circle cx="274.80" cy="541.10" r="1.95" fill="#f07a16"/>
<path d="M295.80 526.83L298.00 530.65L293.60 530.65Z" fill="#f07a16"/>
<path d="M295.80 531.23L298.00 535.05L293.60 535.05Z" fill="#f07a16"/>
<path d="M292.10 534.43L294.30 538.25L289.90 538.25Z" fill="#f07a16"/>
<path d="M300.20 534.43L302.40 538.25L298.00 538.25Z" fill="#f07a16"/>
<circle cx="325.00" cy="512.30" r="1.95" fill="#45b24c"/>
<circle cx="320.60" cy="519.50" r="1.95" fill="#45b24c"/>
<circle cx="329.10" cy="520.40" r="1.95" fill="#45b24c"/>
<circle cx="325.00" cy="526.00" r="1.95" fill="#45b24c"/>
<path d="M337.60 548.63L339.80 552.45L335.40 552.45Z" fill="#45b24c"/>
<path d="M346.20 548.63L348.40 552.45L344.00 552.45Z" fill="#45b24c"/>
<path d="M341.90 560.33L344.10 564.15L339.70 564.15Z" fill="#45b24c"/>
<path d="M341.90 565.03L344.10 568.85L339.70 568.85Z" fill="#45b24c"/>
<text x="260.60" y="575.40" font-size="8.5" fill="#555555" font-weight="bold" font-style="normal" text-anchor="end" textLength="4.1" lengthAdjust="spacingAndGlyphs">0</text>
<text x="260.60" y="554.70" font-size="8.5" fill="#555555" font-weight="bold" font-style="normal" text-anchor="end" textLength="8.2" lengthAdjust="spacingAndGlyphs">10</text>
<text x="260.60" y="534.00" font-size="8.5" fill="#555555" font-weight="bold" font-style="normal" text-anchor="end" textLength="8.2" lengthAdjust="spacingAndGlyphs">20</text>
<text x="260.60" y="513.30" font-size="8.5" fill="#555555" font-weight="bold" font-style="normal" text-anchor="end" textLength="8.2" lengthAdjust="spacingAndGlyphs">30</text>
<text x="260.60" y="492.60" font-size="8.5" fill="#555555" font-weight="bold" font-style="normal" text-anchor="end" textLength="8.2" lengthAdjust="spacingAndGlyphs">40</text>
<text x="359.80" y="575.40" font-size="8.5" fill="#555555" font-weight="bold" font-style="normal" text-anchor="start" textLength="4.1" lengthAdjust="spacingAndGlyphs">0</text>
<text x="359.80" y="558.84" font-size="8.5" fill="#555555" font-weight="bold" font-style="normal" text-anchor="start" textLength="4.1" lengthAdjust="spacingAndGlyphs">1</text>
<text x="359.80" y="542.28" font-size="8.5" fill="#555555" font-weight="bold" font-style="normal" text-anchor="start" textLength="4.1" lengthAdjust="spacingAndGlyphs">2</text>
<text x="359.80" y="525.72" font-size="8.5" fill="#555555" font-weight="bold" font-style="normal" text-anchor="start" textLength="4.1" lengthAdjust="spacingAndGlyphs">3</text>
<text x="359.80" y="509.16" font-size="8.5" fill="#555555" font-weight="bold" font-style="normal" text-anchor="start" textLength="4.1" lengthAdjust="spacingAndGlyphs">4</text>
<text x="359.80" y="492.60" font-size="8.5" fill="#555555" font-weight="bold" font-style="normal" text-anchor="start" textLength="4.1" lengthAdjust="spacingAndGlyphs">5</text>
<path d="M266.80 489.60V572.40H353.80V489.60M262.40 572.40H266.80M262.40 551.70H266.80M262.40 531.00H266.80M262.40 510.30H266.80M262.40 489.60H266.80M353.80 572.40H357.40M353.80 555.84H357.40M353.80 539.28H357.40M353.80 522.72H357.40M353.80 506.16H357.40M353.80 489.60H357.40M278.90 572.40V575.40M296.00 572.40V575.40M325.00 572.40V575.40M341.90 572.40V575.40" stroke="#999999" stroke-width="1.25" fill="none"/>
<text x="247.30" y="531.00" font-size="6.4" fill="#626262" font-weight="normal" font-style="normal" text-anchor="middle" transform="rotate(-90 247.30 531.00)" textLength="87" lengthAdjust="spacingAndGlyphs">Molecular Carbon Labeling (%)</text>
<text x="371.10" y="531.00" font-size="6.4" fill="#626262" font-weight="normal" font-style="normal" text-anchor="middle" transform="rotate(90 371.10 531.00)" textLength="87" lengthAdjust="spacingAndGlyphs">Molecular Carbon Labeling (%)</text>
<text x="239.00" y="531.00" font-size="10.8" fill="#4e4e4e" font-weight="bold" font-style="normal" text-anchor="middle" transform="rotate(-90 239.00 531.00)" >Malate</text>
<path d="M325.00 505.40V500.50H341.90V543.90" stroke="#6a6a6a" stroke-width="1.05" fill="none"/>
<text x="333.20" y="495.30" font-size="8.3" fill="#555" font-weight="bold" font-style="italic" text-anchor="middle" textLength="23.2" lengthAdjust="spacingAndGlyphs">0.0002</text>
<rect x="436.50" y="100.50" width="14.00" height="56.10" fill="#fddfbe"/>
<rect x="455.90" y="121.10" width="14.20" height="35.50" fill="url(#hatchO)"/>
<rect x="475.50" y="132.00" width="14.40" height="24.60" fill="#daf0d6"/>
<rect x="495.50" y="131.60" width="14.00" height="25.00" fill="url(#hatchG)"/>
<path d="M443.50 100.00V101.50M441.00 100.00H446.00M441.00 101.50H446.00" stroke="#efac58" stroke-width="0.8" fill="none"/>
<path d="M462.80 113.80V127.50M460.30 113.80H465.30M460.30 127.50H465.30" stroke="#efac58" stroke-width="0.8" fill="none"/>
<path d="M482.80 117.00V147.10M480.30 117.00H485.30M480.30 147.10H485.30" stroke="#62bb64" stroke-width="0.8" fill="none"/>
<path d="M502.30 124.70V138.40M499.80 124.70H504.80M499.80 138.40H504.80" stroke="#62bb64" stroke-width="0.8" fill="none"/>
<circle cx="438.10" cy="102.90" r="1.95" fill="#f07a16"/>
<circle cx="441.70" cy="100.20" r="1.95" fill="#f07a16"/>
<circle cx="445.00" cy="100.50" r="1.95" fill="#f07a16"/>
<circle cx="448.60" cy="99.80" r="1.95" fill="#f07a16"/>
<path d="M462.80 107.83L465.00 111.65L460.60 111.65Z" fill="#f07a16"/>
<path d="M459.50 120.53L461.70 124.35L457.30 124.35Z" fill="#f07a16"/>
<path d="M466.50 121.43L468.70 125.25L464.30 125.25Z" fill="#f07a16"/>
<path d="M459.50 124.73L461.70 128.55L457.30 128.55Z" fill="#f07a16"/>
<path d="M462.80 124.73L465.00 128.55L460.60 128.55Z" fill="#f07a16"/>
<circle cx="482.80" cy="115.30" r="1.95" fill="#45b24c"/>
<circle cx="482.80" cy="135.60" r="1.95" fill="#45b24c"/>
<circle cx="482.80" cy="145.30" r="1.95" fill="#45b24c"/>
<path d="M502.30 120.13L504.50 123.95L500.10 123.95Z" fill="#45b24c"/>
<path d="M498.60 129.63L500.80 133.45L496.40 133.45Z" fill="#45b24c"/>
<path d="M505.90 132.33L508.10 136.15L503.70 136.15Z" fill="#45b24c"/>
<path d="M502.30 135.63L504.50 139.45L500.10 139.45Z" fill="#45b24c"/>
<text x="423.20" y="159.60" font-size="8.5" fill="#555555" font-weight="bold" font-style="normal" text-anchor="end" textLength="4.1" lengthAdjust="spacingAndGlyphs">0</text>
<text x="423.20" y="143.06" font-size="8.5" fill="#555555" font-weight="bold" font-style="normal" text-anchor="end" textLength="8.2" lengthAdjust="spacingAndGlyphs">10</text>
<text x="423.20" y="126.52" font-size="8.5" fill="#555555" font-weight="bold" font-style="normal" text-anchor="end" textLength="8.2" lengthAdjust="spacingAndGlyphs">20</text>
<text x="423.20" y="109.98" font-size="8.5" fill="#555555" font-weight="bold" font-style="normal" text-anchor="end" textLength="8.2" lengthAdjust="spacingAndGlyphs">30</text>
<text x="423.20" y="93.44" font-size="8.5" fill="#555555" font-weight="bold" font-style="normal" text-anchor="end" textLength="8.2" lengthAdjust="spacingAndGlyphs">40</text>
<text x="423.20" y="76.90" font-size="8.5" fill="#555555" font-weight="bold" font-style="normal" text-anchor="end" textLength="8.2" lengthAdjust="spacingAndGlyphs">50</text>
<text x="523.40" y="159.60" font-size="8.5" fill="#555555" font-weight="bold" font-style="normal" text-anchor="start" textLength="4.1" lengthAdjust="spacingAndGlyphs">0</text>
<text x="523.40" y="143.06" font-size="8.5" fill="#555555" font-weight="bold" font-style="normal" text-anchor="start" textLength="4.1" lengthAdjust="spacingAndGlyphs">2</text>
<text x="523.40" y="126.52" font-size="8.5" fill="#555555" font-weight="bold" font-style="normal" text-anchor="start" textLength="4.1" lengthAdjust="spacingAndGlyphs">4</text>
<text x="523.40" y="109.98" font-size="8.5" fill="#555555" font-weight="bold" font-style="normal" text-anchor="start" textLength="4.1" lengthAdjust="spacingAndGlyphs">6</text>
<text x="523.40" y="93.44" font-size="8.5" fill="#555555" font-weight="bold" font-style="normal" text-anchor="start" textLength="4.1" lengthAdjust="spacingAndGlyphs">8</text>
<text x="523.40" y="76.90" font-size="8.5" fill="#555555" font-weight="bold" font-style="normal" text-anchor="start" textLength="8.2" lengthAdjust="spacingAndGlyphs">10</text>
<path d="M429.40 73.90V156.60H517.40V73.90M425.00 156.60H429.40M425.00 140.06H429.40M425.00 123.52H429.40M425.00 106.98H429.40M425.00 90.44H429.40M425.00 73.90H429.40M517.40 156.60H521.00M517.40 140.06H521.00M517.40 123.52H521.00M517.40 106.98H521.00M517.40 90.44H521.00M517.40 73.90H521.00" stroke="#999999" stroke-width="1.25" fill="none"/>
<text x="409.30" y="115.25" font-size="6.4" fill="#626262" font-weight="normal" font-style="normal" text-anchor="middle" transform="rotate(-90 409.30 115.25)" textLength="87" lengthAdjust="spacingAndGlyphs">Molecular Carbon Labeling (%)</text>
<text x="538.10" y="115.25" font-size="6.4" fill="#626262" font-weight="normal" font-style="normal" text-anchor="middle" transform="rotate(90 538.10 115.25)" textLength="87" lengthAdjust="spacingAndGlyphs">Molecular Carbon Labeling (%)</text>
<path d="M443.20 92.50V85.60H463.20V102.90" stroke="#6a6a6a" stroke-width="1.05" fill="none"/>
<text x="453.40" y="80.80" font-size="8.3" fill="#555" font-weight="bold" font-style="italic" text-anchor="middle" textLength="23.2" lengthAdjust="spacingAndGlyphs">0.0019</text>
<rect x="436.80" y="233.20" width="11.80" height="23.60" fill="#fddfbe"/>
<rect x="453.70" y="244.10" width="11.70" height="12.70" fill="url(#hatchO)"/>
<rect x="482.80" y="238.10" width="11.70" height="18.70" fill="#daf0d6"/>
<rect x="499.50" y="239.20" width="11.30" height="17.60" fill="url(#hatchG)"/>
<line x1="474.10" y1="174.30" x2="474.10" y2="256.80" stroke="#b4b4b4" stroke-width="0.75" stroke-dasharray="1.1 1.7"/>
<path d="M442.60 214.10V251.40M440.10 214.10H445.10M440.10 251.40H445.10" stroke="#efac58" stroke-width="0.8" fill="none"/>
<path d="M459.50 242.50V247.50M457.00 242.50H462.00M457.00 247.50H462.00" stroke="#efac58" stroke-width="0.8" fill="none"/>
<path d="M488.30 230.50V244.10M485.80 230.50H490.80M485.80 244.10H490.80" stroke="#62bb64" stroke-width="0.8" fill="none"/>
<path d="M505.40 229.50V249.00M502.90 229.50H507.90M502.90 249.00H507.90" stroke="#62bb64" stroke-width="0.8" fill="none"/>
<circle cx="442.60" cy="205.40" r="1.95" fill="#f07a16"/>
<circle cx="442.60" cy="238.60" r="1.95" fill="#f07a16"/>
<circle cx="438.30" cy="245.00" r="1.95" fill="#f07a16"/>
<circle cx="446.80" cy="243.50" r="1.95" fill="#f07a16"/>
<path d="M455.50 241.73L457.70 245.55L453.30 245.55Z" fill="#f07a16"/>
<path d="M463.50 239.93L465.70 243.75L461.30 243.75Z" fill="#f07a16"/>
<path d="M455.50 245.93L457.70 249.75L453.30 249.75Z" fill="#f07a16"/>
<path d="M463.50 244.83L465.70 248.65L461.30 248.65Z" fill="#f07a16"/>
<circle cx="484.10" cy="234.10" r="1.95" fill="#45b24c"/>
<circle cx="492.60" cy="231.90" r="1.95" fill="#45b24c"/>
<circle cx="492.60" cy="236.30" r="1.95" fill="#45b24c"/>
<circle cx="488.30" cy="247.70" r="1.95" fill="#45b24c"/>
<path d="M505.40 224.43L507.60 228.25L503.20 228.25Z" fill="#45b24c"/>
<path d="M505.40 236.83L507.60 240.65L503.20 240.65Z" fill="#45b24c"/>
<path d="M505.40 241.13L507.60 244.95L503.20 244.95Z" fill="#45b24c"/>
<path d="M505.40 247.13L507.60 250.95L503.20 250.95Z" fill="#45b24c"/>
<text x="424.40" y="259.80" font-size="8.5" fill="#555555" font-weight="bold" font-style="normal" text-anchor="end" textLength="4.1" lengthAdjust="spacingAndGlyphs">0</text>
<text x="424.40" y="239.18" font-size="8.5" fill="#555555" font-weight="bold" font-style="normal" text-anchor="end" textLength="8.2" lengthAdjust="spacingAndGlyphs">10</text>
<text x="424.40" y="218.55" font-size="8.5" fill="#555555" font-weight="bold" font-style="normal" text-anchor="end" textLength="8.2" lengthAdjust="spacingAndGlyphs">20</text>
<text x="424.40" y="197.93" font-size="8.5" fill="#555555" font-weight="bold" font-style="normal" text-anchor="end" textLength="8.2" lengthAdjust="spacingAndGlyphs">30</text>
<text x="424.40" y="177.30" font-size="8.5" fill="#555555" font-weight="bold" font-style="normal" text-anchor="end" textLength="8.2" lengthAdjust="spacingAndGlyphs">40</text>
<text x="524.20" y="259.80" font-size="8.5" fill="#555555" font-weight="bold" font-style="normal" text-anchor="start" textLength="4.1" lengthAdjust="spacingAndGlyphs">0</text>
<text x="524.20" y="243.30" font-size="8.5" fill="#555555" font-weight="bold" font-style="normal" text-anchor="start" textLength="4.1" lengthAdjust="spacingAndGlyphs">2</text>
<text x="524.20" y="226.80" font-size="8.5" fill="#555555" font-weight="bold" font-style="normal" text-anchor="start" textLength="4.1" lengthAdjust="spacingAndGlyphs">4</text>
<text x="524.20" y="210.30" font-size="8.5" fill="#555555" font-weight="bold" font-style="normal" text-anchor="start" textLength="4.1" lengthAdjust="spacingAndGlyphs">6</text>
<text x="524.20" y="193.80" font-size="8.5" fill="#555555" font-weight="bold" font-style="normal" text-anchor="start" textLength="4.1" lengthAdjust="spacingAndGlyphs">8</text>
<text x="524.20" y="177.30" font-size="8.5" fill="#555555" font-weight="bold" font-style="normal" text-anchor="start" textLength="8.2" lengthAdjust="spacingAndGlyphs">10</text>
<path d="M430.60 174.30V256.80H518.20V174.30M426.20 256.80H430.60M426.20 236.18H430.60M426.20 215.55H430.60M426.20 194.93H430.60M426.20 174.30H430.60M518.20 256.80H521.80M518.20 240.30H521.80M518.20 223.80H521.80M518.20 207.30H521.80M518.20 190.80H521.80M518.20 174.30H521.80" stroke="#999999" stroke-width="1.25" fill="none"/>
<text x="411.20" y="215.55" font-size="6.4" fill="#626262" font-weight="normal" font-style="normal" text-anchor="middle" transform="rotate(-90 411.20 215.55)" textLength="87" lengthAdjust="spacingAndGlyphs">Molecular Carbon Labeling (%)</text>
<text x="539.20" y="215.55" font-size="6.4" fill="#626262" font-weight="normal" font-style="normal" text-anchor="middle" transform="rotate(90 539.20 215.55)" textLength="87" lengthAdjust="spacingAndGlyphs">Molecular Carbon Labeling (%)</text>
<rect x="437.70" y="312.70" width="11.50" height="47.70" fill="#fddfbe"/>
<rect x="454.60" y="327.30" width="11.90" height="33.10" fill="url(#hatchO)"/>
<rect x="483.50" y="340.00" width="11.50" height="20.40" fill="#daf0d6"/>
<rect x="500.50" y="337.60" width="11.40" height="22.80" fill="url(#hatchG)"/>
<line x1="475.00" y1="277.90" x2="475.00" y2="360.40" stroke="#b4b4b4" stroke-width="0.75" stroke-dasharray="1.1 1.7"/>
<path d="M443.20 304.00V318.00M440.70 304.00H445.70M440.70 318.00H445.70" stroke="#efac58" stroke-width="0.8" fill="none"/>
<path d="M460.50 320.50V332.70M458.00 320.50H463.00M458.00 332.70H463.00" stroke="#efac58" stroke-width="0.8" fill="none"/>
<path d="M489.00 333.00V345.00M486.50 333.00H491.50M486.50 345.00H491.50" stroke="#62bb64" stroke-width="0.8" fill="none"/>
<path d="M506.50 333.00V347.00M504.00 333.00H509.00M504.00 347.00H509.00" stroke="#62bb64" stroke-width="0.8" fill="none"/>
<path d="M443.20 301.13L445.40 304.95L441.00 304.95Z" fill="#f07a16"/>
<circle cx="443.20" cy="306.40" r="1.95" fill="#f07a16"/>
<circle cx="443.20" cy="310.40" r="1.95" fill="#f07a16"/>
<circle cx="439.20" cy="316.90" r="1.95" fill="#f07a16"/>
<circle cx="447.70" cy="314.50" r="1.95" fill="#f07a16"/>
<path d="M456.30 320.73L458.50 324.55L454.10 324.55Z" fill="#f07a16"/>
<path d="M464.60 321.43L466.80 325.25L462.40 325.25Z" fill="#f07a16"/>
<path d="M460.50 328.53L462.70 332.35L458.30 332.35Z" fill="#f07a16"/>
<path d="M460.50 332.73L462.70 336.55L458.30 336.55Z" fill="#f07a16"/>
<circle cx="489.00" cy="330.00" r="1.95" fill="#45b24c"/>
<circle cx="485.00" cy="338.70" r="1.95" fill="#45b24c"/>
<circle cx="493.20" cy="338.20" r="1.95" fill="#45b24c"/>
<circle cx="489.00" cy="339.00" r="1.95" fill="#45b24c"/>
<path d="M506.50 326.73L508.70 330.55L504.30 330.55Z" fill="#45b24c"/>
<path d="M502.30 334.93L504.50 338.75L500.10 338.75Z" fill="#45b24c"/>
<path d="M510.10 335.23L512.30 339.05L507.90 339.05Z" fill="#45b24c"/>
<path d="M502.30 340.33L504.50 344.15L500.10 344.15Z" fill="#45b24c"/>
<text x="425.50" y="363.40" font-size="8.5" fill="#555555" font-weight="bold" font-style="normal" text-anchor="end" textLength="4.1" lengthAdjust="spacingAndGlyphs">0</text>
<text x="425.50" y="346.90" font-size="8.5" fill="#555555" font-weight="bold" font-style="normal" text-anchor="end" textLength="4.1" lengthAdjust="spacingAndGlyphs">2</text>
<text x="425.50" y="330.40" font-size="8.5" fill="#555555" font-weight="bold" font-style="normal" text-anchor="end" textLength="4.1" lengthAdjust="spacingAndGlyphs">4</text>
<text x="425.50" y="313.90" font-size="8.5" fill="#555555" font-weight="bold" font-style="normal" text-anchor="end" textLength="4.1" lengthAdjust="spacingAndGlyphs">6</text>
<text x="425.50" y="297.40" font-size="8.5" fill="#555555" font-weight="bold" font-style="normal" text-anchor="end" textLength="4.1" lengthAdjust="spacingAndGlyphs">8</text>
<text x="425.50" y="280.90" font-size="8.5" fill="#555555" font-weight="bold" font-style="normal" text-anchor="end" textLength="8.2" lengthAdjust="spacingAndGlyphs">10</text>
<text x="525.20" y="363.40" font-size="8.5" fill="#555555" font-weight="bold" font-style="normal" text-anchor="start" textLength="4.1" lengthAdjust="spacingAndGlyphs">0</text>
<text x="525.20" y="346.90" font-size="8.5" fill="#555555" font-weight="bold" font-style="normal" text-anchor="start" textLength="4.1" lengthAdjust="spacingAndGlyphs">2</text>
<text x="525.20" y="330.40" font-size="8.5" fill="#555555" font-weight="bold" font-style="normal" text-anchor="start" textLength="4.1" lengthAdjust="spacingAndGlyphs">4</text>
<text x="525.20" y="313.90" font-size="8.5" fill="#555555" font-weight="bold" font-style="normal" text-anchor="start" textLength="4.1" lengthAdjust="spacingAndGlyphs">6</text>
<text x="525.20" y="297.40" font-size="8.5" fill="#555555" font-weight="bold" font-style="normal" text-anchor="start" textLength="4.1" lengthAdjust="spacingAndGlyphs">8</text>
<text x="525.20" y="280.90" font-size="8.5" fill="#555555" font-weight="bold" font-style="normal" text-anchor="start" textLength="8.2" lengthAdjust="spacingAndGlyphs">10</text>
<path d="M431.70 277.90V360.40H519.20V277.90M427.30 360.40H431.70M427.30 343.90H431.70M427.30 327.40H431.70M427.30 310.90H431.70M427.30 294.40H431.70M427.30 277.90H431.70M519.20 360.40H522.80M519.20 343.90H522.80M519.20 327.40H522.80M519.20 310.90H522.80M519.20 294.40H522.80M519.20 277.90H522.80" stroke="#999999" stroke-width="1.25" fill="none"/>
<text x="411.70" y="319.15" font-size="6.4" fill="#626262" font-weight="normal" font-style="normal" text-anchor="middle" transform="rotate(-90 411.70 319.15)" textLength="87" lengthAdjust="spacingAndGlyphs">Molecular Carbon Labeling (%)</text>
<text x="539.70" y="319.15" font-size="6.4" fill="#626262" font-weight="normal" font-style="normal" text-anchor="middle" transform="rotate(90 539.70 319.15)" textLength="87" lengthAdjust="spacingAndGlyphs">Molecular Carbon Labeling (%)</text>
<path d="M443.20 300.00V293.60H460.50V313.60" stroke="#6a6a6a" stroke-width="1.05" fill="none"/>
<text x="452.00" y="288.50" font-size="8.3" fill="#555" font-weight="bold" font-style="italic" text-anchor="middle" textLength="23.2" lengthAdjust="spacingAndGlyphs">0.0092</text>
<rect x="438.60" y="425.90" width="11.90" height="39.70" fill="#fddfbe"/>
<rect x="455.50" y="432.80" width="11.90" height="32.80" fill="url(#hatchO)"/>
<rect x="484.10" y="445.50" width="11.40" height="20.10" fill="#daf0d6"/>
<rect x="501.00" y="449.20" width="11.80" height="16.40" fill="url(#hatchG)"/>
<line x1="475.90" y1="383.20" x2="475.90" y2="465.60" stroke="#b4b4b4" stroke-width="0.75" stroke-dasharray="1.1 1.7"/>
<path d="M444.50 422.00V431.40M442.00 422.00H447.00M442.00 431.40H447.00" stroke="#efac58" stroke-width="0.8" fill="none"/>
<path d="M461.40 424.00V436.00M458.90 424.00H463.90M458.90 436.00H463.90" stroke="#efac58" stroke-width="0.8" fill="none"/>
<path d="M490.10 438.60V451.40M487.60 438.60H492.60M487.60 451.40H492.60" stroke="#62bb64" stroke-width="0.8" fill="none"/>
<path d="M506.80 438.30V460.00M504.30 438.30H509.30M504.30 460.00H509.30" stroke="#62bb64" stroke-width="0.8" fill="none"/>
<path d="M444.50 416.23L446.70 420.05L442.30 420.05Z" fill="#f07a16"/>
<circle cx="444.50" cy="423.20" r="1.95" fill="#f07a16"/>
<circle cx="440.50" cy="431.70" r="1.95" fill="#f07a16"/>
<circle cx="448.60" cy="428.60" r="1.95" fill="#f07a16"/>
<path d="M461.40 419.53L463.60 423.35L459.20 423.35Z" fill="#f07a16"/>
<path d="M457.20 429.33L459.40 433.15L455.00 433.15Z" fill="#f07a16"/>
<path d="M465.40 431.13L467.60 434.95L463.20 434.95Z" fill="#f07a16"/>
<path d="M457.20 433.53L459.40 437.35L455.00 437.35Z" fill="#f07a16"/>
<circle cx="485.90" cy="440.10" r="1.95" fill="#45b24c"/>
<circle cx="494.50" cy="442.60" r="1.95" fill="#45b24c"/>
<circle cx="490.10" cy="442.60" r="1.95" fill="#45b24c"/>
<circle cx="490.10" cy="455.00" r="1.95" fill="#45b24c"/>
<path d="M506.80 431.13L509.00 434.95L504.60 434.95Z" fill="#45b24c"/>
<path d="M502.80 449.93L505.00 453.75L500.60 453.75Z" fill="#45b24c"/>
<path d="M511.40 451.73L513.60 455.55L509.20 455.55Z" fill="#45b24c"/>
<path d="M506.80 456.63L509.00 460.45L504.60 460.45Z" fill="#45b24c"/>
<text x="426.40" y="468.60" font-size="8.5" fill="#555555" font-weight="bold" font-style="normal" text-anchor="end" textLength="4.1" lengthAdjust="spacingAndGlyphs">0</text>
<text x="426.40" y="448.00" font-size="8.5" fill="#555555" font-weight="bold" font-style="normal" text-anchor="end" textLength="4.1" lengthAdjust="spacingAndGlyphs">5</text>
<text x="426.40" y="427.40" font-size="8.5" fill="#555555" font-weight="bold" font-style="normal" text-anchor="end" textLength="8.2" lengthAdjust="spacingAndGlyphs">10</text>
<text x="426.40" y="406.80" font-size="8.5" fill="#555555" font-weight="bold" font-style="normal" text-anchor="end" textLength="8.2" lengthAdjust="spacingAndGlyphs">15</text>
<text x="426.40" y="386.20" font-size="8.5" fill="#555555" font-weight="bold" font-style="normal" text-anchor="end" textLength="8.2" lengthAdjust="spacingAndGlyphs">20</text>
<text x="525.30" y="468.60" font-size="8.5" fill="#555555" font-weight="bold" font-style="normal" text-anchor="start" textLength="4.1" lengthAdjust="spacingAndGlyphs">0</text>
<text x="525.30" y="452.12" font-size="8.5" fill="#555555" font-weight="bold" font-style="normal" text-anchor="start" textLength="4.1" lengthAdjust="spacingAndGlyphs">1</text>
<text x="525.30" y="435.64" font-size="8.5" fill="#555555" font-weight="bold" font-style="normal" text-anchor="start" textLength="4.1" lengthAdjust="spacingAndGlyphs">2</text>
<text x="525.30" y="419.16" font-size="8.5" fill="#555555" font-weight="bold" font-style="normal" text-anchor="start" textLength="4.1" lengthAdjust="spacingAndGlyphs">3</text>
<text x="525.30" y="402.68" font-size="8.5" fill="#555555" font-weight="bold" font-style="normal" text-anchor="start" textLength="4.1" lengthAdjust="spacingAndGlyphs">4</text>
<text x="525.30" y="386.20" font-size="8.5" fill="#555555" font-weight="bold" font-style="normal" text-anchor="start" textLength="4.1" lengthAdjust="spacingAndGlyphs">5</text>
<path d="M432.60 383.20V465.60H519.30V383.20M428.20 465.60H432.60M428.20 445.00H432.60M428.20 424.40H432.60M428.20 403.80H432.60M428.20 383.20H432.60M519.30 465.60H522.90M519.30 449.12H522.90M519.30 432.64H522.90M519.30 416.16H522.90M519.30 399.68H522.90M519.30 383.20H522.90" stroke="#999999" stroke-width="1.25" fill="none"/>
<text x="413.30" y="424.40" font-size="6.4" fill="#626262" font-weight="normal" font-style="normal" text-anchor="middle" transform="rotate(-90 413.30 424.40)" textLength="87" lengthAdjust="spacingAndGlyphs">Molecular Carbon Labeling (%)</text>
<text x="536.40" y="424.40" font-size="6.4" fill="#626262" font-weight="normal" font-style="normal" text-anchor="middle" transform="rotate(90 536.40 424.40)" textLength="87" lengthAdjust="spacingAndGlyphs">Molecular Carbon Labeling (%)</text>
<rect x="439.70" y="528.50" width="11.60" height="44.30" fill="#fddfbe"/>
<rect x="456.00" y="543.00" width="11.90" height="29.80" fill="url(#hatchO)"/>
<rect x="485.20" y="551.10" width="11.80" height="21.70" fill="#daf0d6"/>
<rect x="502.10" y="551.40" width="11.60" height="21.40" fill="url(#hatchG)"/>
<line x1="476.70" y1="490.20" x2="476.70" y2="572.80" stroke="#b4b4b4" stroke-width="0.75" stroke-dasharray="1.1 1.7"/>
<path d="M445.10 526.50V532.00M442.60 526.50H447.60M442.60 532.00H447.60" stroke="#efac58" stroke-width="0.8" fill="none"/>
<path d="M462.20 535.50V549.90M459.70 535.50H464.70M459.70 549.90H464.70" stroke="#efac58" stroke-width="0.8" fill="none"/>
<path d="M490.80 541.70V560.50M488.30 541.70H493.30M488.30 560.50H493.30" stroke="#62bb64" stroke-width="0.8" fill="none"/>
<path d="M507.70 537.90V563.00M505.20 537.90H510.20M505.20 563.00H510.20" stroke="#62bb64" stroke-width="0.8" fill="none"/>
<circle cx="441.00" cy="527.90" r="1.95" fill="#f07a16"/>
<circle cx="441.00" cy="532.30" r="1.95" fill="#f07a16"/>
<circle cx="449.10" cy="526.10" r="1.95" fill="#f07a16"/>
<circle cx="449.10" cy="530.40" r="1.95" fill="#f07a16"/>
<path d="M462.20 529.93L464.40 533.75L460.00 533.75Z" fill="#f07a16"/>
<circle cx="462.20" cy="545.80" r="1.95" fill="#f07a16"/>
<path d="M457.90 545.33L460.10 549.15L455.70 549.15Z" fill="#f07a16"/>
<path d="M466.00 544.93L468.20 548.75L463.80 548.75Z" fill="#f07a16"/>
<circle cx="487.00" cy="544.30" r="1.95" fill="#45b24c"/>
<circle cx="495.10" cy="544.30" r="1.95" fill="#45b24c"/>
<circle cx="490.80" cy="550.50" r="1.95" fill="#45b24c"/>
<circle cx="490.80" cy="564.20" r="1.95" fill="#45b24c"/>
<path d="M507.70 529.93L509.90 533.75L505.50 533.75Z" fill="#45b24c"/>
<path d="M503.60 552.83L505.80 556.65L501.40 556.65Z" fill="#45b24c"/>
<path d="M511.80 553.23L514.00 557.05L509.60 557.05Z" fill="#45b24c"/>
<path d="M507.70 560.73L509.90 564.55L505.50 564.55Z" fill="#45b24c"/>
<text x="426.60" y="575.80" font-size="8.5" fill="#555555" font-weight="bold" font-style="normal" text-anchor="end" textLength="4.1" lengthAdjust="spacingAndGlyphs">0</text>
<text x="426.60" y="555.15" font-size="8.5" fill="#555555" font-weight="bold" font-style="normal" text-anchor="end" textLength="8.2" lengthAdjust="spacingAndGlyphs">10</text>
<text x="426.60" y="534.50" font-size="8.5" fill="#555555" font-weight="bold" font-style="normal" text-anchor="end" textLength="8.2" lengthAdjust="spacingAndGlyphs">20</text>
<text x="426.60" y="513.85" font-size="8.5" fill="#555555" font-weight="bold" font-style="normal" text-anchor="end" textLength="8.2" lengthAdjust="spacingAndGlyphs">30</text>
<text x="426.60" y="493.20" font-size="8.5" fill="#555555" font-weight="bold" font-style="normal" text-anchor="end" textLength="8.2" lengthAdjust="spacingAndGlyphs">40</text>
<text x="526.00" y="575.80" font-size="8.5" fill="#555555" font-weight="bold" font-style="normal" text-anchor="start" textLength="4.1" lengthAdjust="spacingAndGlyphs">0</text>
<text x="526.00" y="559.28" font-size="8.5" fill="#555555" font-weight="bold" font-style="normal" text-anchor="start" textLength="4.1" lengthAdjust="spacingAndGlyphs">2</text>
<text x="526.00" y="542.76" font-size="8.5" fill="#555555" font-weight="bold" font-style="normal" text-anchor="start" textLength="4.1" lengthAdjust="spacingAndGlyphs">4</text>
<text x="526.00" y="526.24" font-size="8.5" fill="#555555" font-weight="bold" font-style="normal" text-anchor="start" textLength="4.1" lengthAdjust="spacingAndGlyphs">6</text>
<text x="526.00" y="509.72" font-size="8.5" fill="#555555" font-weight="bold" font-style="normal" text-anchor="start" textLength="4.1" lengthAdjust="spacingAndGlyphs">8</text>
<text x="526.00" y="493.20" font-size="8.5" fill="#555555" font-weight="bold" font-style="normal" text-anchor="start" textLength="8.2" lengthAdjust="spacingAndGlyphs">10</text>
<path d="M432.80 490.20V572.80H520.00V490.20M428.40 572.80H432.80M428.40 552.15H432.80M428.40 531.50H432.80M428.40 510.85H432.80M428.40 490.20H432.80M520.00 572.80H523.60M520.00 556.28H523.60M520.00 539.76H523.60M520.00 523.24H523.60M520.00 506.72H523.60M520.00 490.20H523.60M445.50 572.80V575.80M462.00 572.80V575.80M491.00 572.80V575.80M507.70 572.80V575.80" stroke="#999999" stroke-width="1.25" fill="none"/>
<text x="413.80" y="531.50" font-size="6.4" fill="#626262" font-weight="normal" font-style="normal" text-anchor="middle" transform="rotate(-90 413.80 531.50)" textLength="87" lengthAdjust="spacingAndGlyphs">Molecular Carbon Labeling (%)</text>
<text x="542.90" y="531.50" font-size="6.4" fill="#626262" font-weight="normal" font-style="normal" text-anchor="middle" transform="rotate(90 542.90 531.50)" textLength="87" lengthAdjust="spacingAndGlyphs">Molecular Carbon Labeling (%)</text>
<path d="M445.30 519.50V512.90H462.60V525.10" stroke="#6a6a6a" stroke-width="1.05" fill="none"/>
<text x="453.60" y="507.60" font-size="8.3" fill="#555" font-weight="bold" font-style="italic" text-anchor="middle" textLength="23.2" lengthAdjust="spacingAndGlyphs">0.0137</text>
<text x="274.40" y="586.40" font-size="8.4" fill="#505050" font-weight="bold" font-style="normal" text-anchor="middle" >WT</text>
<text x="299.00" y="586.40" font-size="8.4" fill="#505050" font-weight="bold" font-style="normal" text-anchor="middle" >5xFAD</text>
<text x="320.00" y="586.40" font-size="8.4" fill="#505050" font-weight="bold" font-style="normal" text-anchor="middle" >WT</text>
<text x="345.20" y="586.40" font-size="8.4" fill="#505050" font-weight="bold" font-style="normal" text-anchor="middle" >5xFAD</text>
<text x="440.80" y="587.20" font-size="8.4" fill="#505050" font-weight="bold" font-style="normal" text-anchor="middle" >WT</text>
<text x="465.70" y="587.20" font-size="8.4" fill="#505050" font-weight="bold" font-style="normal" text-anchor="middle" >5xFAD</text>
<text x="487.00" y="587.20" font-size="8.4" fill="#505050" font-weight="bold" font-style="normal" text-anchor="middle" >WT</text>
<text x="512.90" y="587.20" font-size="8.4" fill="#505050" font-weight="bold" font-style="normal" text-anchor="middle" >5xFAD</text>
</svg>
</body></html>
